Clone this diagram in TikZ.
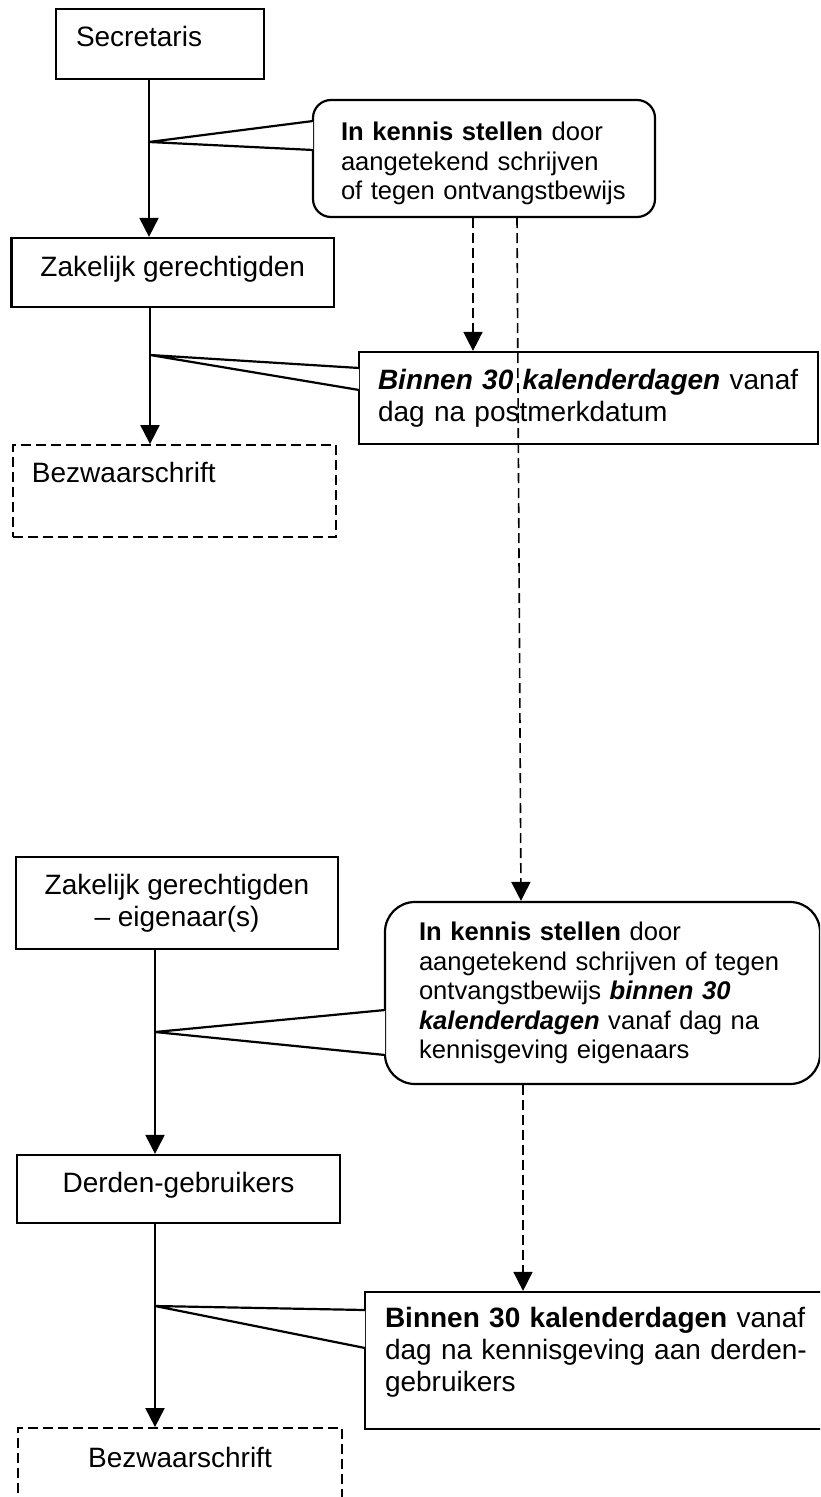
\documentclass[tikz,border=0pt]{standalone}
\usepackage{fontspec}
\setmainfont{Liberation Sans}
\usetikzlibrary{arrows.meta}
\newcommand\boxfont{\fontsize{14}{16.1}\selectfont}
\newcommand\notefont{\fontsize{12.8}{14.7}\selectfont}
\begin{document}
\begin{tikzpicture}[x=0.5pt,y=-0.5pt,
    box/.style={draw,line width=1.1pt,inner sep=0pt,font=\boxfont},
    dbox/.style={box,line width=0.9pt,dash pattern=on 5pt off 2.5pt},
    note/.style={draw,fill=white,line width=1.1pt,inner ysep=0pt,align=left},
    tail/.style={fill=white,line width=1.1pt},
    arr/.style={line width=1pt,-{Triangle[length=9.5pt,width=9.5pt]}},
    darr/.style={arr,line width=0.8pt,dash pattern=on 5pt off 2.5pt}]
  \useasboundingbox (0,0) rectangle (820,1497);
  \clip (0,0) rectangle (820,1497);
  \coordinate (t1) at (149,142);
  \coordinate (t2) at (150,355);
  \coordinate (t3) at (155,1032);
  \coordinate (t4) at (155,1306);
  \coordinate (d1) at (473,0);
  \coordinate (d2) at (517,0);
  \coordinate (d3) at (521,0);
  \coordinate (d4) at (523,0);
  \node[box,minimum height=35pt,text width=84pt,inner xsep=10pt,align=left,text height=10.2pt,text depth=7.2pt] (sec) at (160,44) {Secretaris};
  \node[box,minimum width=161.25pt,minimum height=34.5pt,text height=10.2pt,text depth=5.7pt] (zg) at (172.75,272.5) {Zakelijk gerechtigden};
  \node[dbox,minimum height=46pt,text width=142.5pt,inner xsep=9.5pt,align=left,text height=10.2pt,text depth=18.7pt] (bz1) at (174.5,491) {Bezwaarschrift};
  \node[box,minimum width=161pt,minimum height=46pt,align=center] (zge) at (177,903) {Zakelijk gerechtigden\\-- eigenaar(s)};
  \node[box,minimum width=161.5pt,minimum height=34pt,text height=10.2pt,text depth=6.7pt] (dg) at (178.5,1189) {Derden-gebruikers};
  \node[dbox,minimum width=162pt,minimum height=46pt,text height=10.2pt,text depth=17.2pt] (bz2) at (180,1474) {Bezwaarschrift};
  \node[note,rounded corners=9pt,font=\notefont,text width=143pt,inner xsep=14pt,minimum height=58.5pt] (c1) at (484,158.5)
    {\rule{0pt}{14.3pt}\textbf{In kennis stellen} door\\aangetekend schrijven\\of tegen ontvangstbewijs};
  \node[note,font=\boxfont,text width=210.5pt,inner xsep=9.5pt,minimum height=46pt] (c2) at (588.5,398)
    {\textbf{\textit{Binnen 30 kalenderdagen}} vanaf\\dag na postmerkdatum};
  \node[note,rounded corners=15pt,font=\notefont,text width=183.5pt,inner xsep=17pt,minimum height=91pt] (c3) at (602.5,993)
    {\textbf{In kennis stellen} door\\aangetekend schrijven of tegen\\ontvangstbewijs \textbf{\textit{binnen 30}}\\\textbf{\textit{kalenderdagen}} vanaf dag na\\kennisgeving eigenaars};
  \node[note,font=\boxfont,text width=216pt,inner xsep=10pt,minimum height=68.5pt] (c4) at (601,1360.5)
    {\textbf{Binnen 30 kalenderdagen} vanaf\\dag na kennisgeving aan derden-\\gebruikers\rule[-11.4pt]{0pt}{1pt}};
  \filldraw[tail] ([xshift=0.6pt,yshift=18.75pt]c1.west) -- (t1) -- ([xshift=0.6pt,yshift=4.25pt]c1.west);
  \filldraw[tail] ([xshift=0.6pt,yshift=15pt]c2.west) -- (t2) -- ([xshift=0.6pt,yshift=4pt]c2.west);
  \filldraw[tail] ([xshift=0.6pt,yshift=-8.5pt]c3.west) -- (t3) -- ([xshift=0.6pt,yshift=-31pt]c3.west);
  \filldraw[tail] ([xshift=0.6pt,yshift=25.25pt]c4.west) -- (t4) -- ([xshift=0.6pt,yshift=6.25pt]c4.west);
  \draw[arr] (sec.south -| t1) -- (zg.north -| t1);
  \draw[arr] (zg.south -| t2) -- (bz1.north -| t2);
  \draw[arr] (zge.south -| t3) -- (dg.north -| t3);
  \draw[arr] (dg.south -| t4) -- (bz2.north -| t4);
  \draw[darr] (c1.south -| d1) -- (c2.north -| d1);
  \draw[darr] (c1.south -| d2) -- (c3.north -| d3);
  \draw[darr] (c3.south -| d4) -- (c4.north -| d4);
\end{tikzpicture}
\end{document}
